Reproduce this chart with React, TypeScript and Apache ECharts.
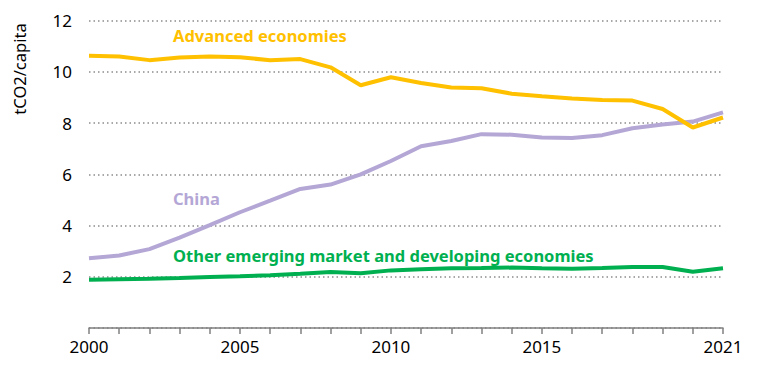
import React, { useEffect, useRef } from "react";
import * as echarts from "echarts";

const years = [2000, 2001, 2002, 2003, 2004, 2005, 2006, 2007, 2008, 2009, 2010, 2011, 2012, 2013, 2014, 2015, 2016, 2017, 2018, 2019, 2020, 2021];
const advanced = [10.63, 10.6, 10.46, 10.56, 10.6, 10.57, 10.46, 10.5, 10.18, 9.48, 9.79, 9.57, 9.39, 9.36, 9.15, 9.05, 8.96, 8.9, 8.88, 8.55, 7.83, 8.22];
const china = [2.72, 2.83, 3.08, 3.53, 4.02, 4.52, 4.97, 5.43, 5.6, 6.0, 6.52, 7.1, 7.3, 7.57, 7.55, 7.44, 7.42, 7.53, 7.8, 7.95, 8.06, 8.42];
const others = [1.88, 1.9, 1.92, 1.95, 1.99, 2.02, 2.06, 2.12, 2.19, 2.14, 2.25, 2.29, 2.33, 2.34, 2.36, 2.33, 2.31, 2.34, 2.38, 2.38, 2.2, 2.33];
const labeledYears = [2000, 2005, 2010, 2015, 2021];
const yTicks = [2, 4, 6, 8, 10, 12];

const COLORS = { adv: "#FFC000", china: "#B4A7D6", other: "#00B050" };

export default function App() {
  const ref = useRef<HTMLDivElement>(null);
  useEffect(() => {
    if (!ref.current) return;
    const chart = echarts.init(ref.current, null, { renderer: "svg" });
    const font = "'Noto Sans', sans-serif";
    const mk = (name: string, vals: number[], color: string) => ({
      name,
      type: "line",
      data: years.map((y, i) => [y, vals[i]]),
      showSymbol: false,
      lineStyle: { color, width: 4 },
      itemStyle: { color },
    });
    chart.setOption({
      animation: false,
      grid: { left: 89, right: 45, top: 20.7, bottom: 50 },
      xAxis: {
        type: "value",
        min: 2000,
        max: 2021,
        interval: 1,
        axisLine: { show: true, lineStyle: { color: "#808080", width: 1.5 } },
        axisTick: { show: true, length: 6, lineStyle: { color: "#808080", width: 1.5 } },
        splitLine: { show: false },
        axisLabel: {
          showMinLabel: true,
          showMaxLabel: true,
          color: "#000",
          fontSize: 17,
          fontFamily: font,
          margin: 10,
          formatter: (v: number) => (labeledYears.includes(v) ? String(v) : ""),
        },
      },
      yAxis: {
        type: "value",
        min: 0,
        max: 12,
        interval: 2,
        axisLine: { show: false },
        axisTick: { show: false },
        splitLine: { show: true, lineStyle: { color: "#8c8c8c", type: [1.5, 3], width: 1.5 } },
        axisLabel: {
          color: "#000",
          fontSize: 17,
          fontFamily: font,
          margin: 17,
          formatter: (v: number) => (yTicks.includes(v) ? String(v) : ""),
        },
      },
      graphic: [
        {
          type: "text",
          x: 19,
          y: 69,
          rotation: Math.PI / 2,
          style: { text: "tCO2/capita", fill: "#000", font: `16.5px ${font}`, align: "center", verticalAlign: "middle" },
        },
        {
          type: "text",
          x: 173,
          y: 35,
          style: { text: "Advanced economies", fill: COLORS.adv, font: `bold 16.5px ${font}`, verticalAlign: "middle" },
        },
        {
          type: "text",
          x: 173,
          y: 198,
          style: { text: "China", fill: COLORS.china, font: `bold 16.5px ${font}`, verticalAlign: "middle" },
        },
        {
          type: "text",
          x: 173,
          y: 255,
          style: { text: "Other emerging market and developing economies", fill: COLORS.other, font: `bold 16.5px ${font}`, verticalAlign: "middle" },
        },
      ],
      series: [
        mk("Other emerging market and developing economies", others, COLORS.other),
        mk("China", china, COLORS.china),
        mk("Advanced economies", advanced, COLORS.adv),
      ],
    });
    return () => chart.dispose();
  }, []);
  return <div ref={ref} style={{ width: 768, height: 378, position: "absolute", left: 0, top: 0 }} />;
}
